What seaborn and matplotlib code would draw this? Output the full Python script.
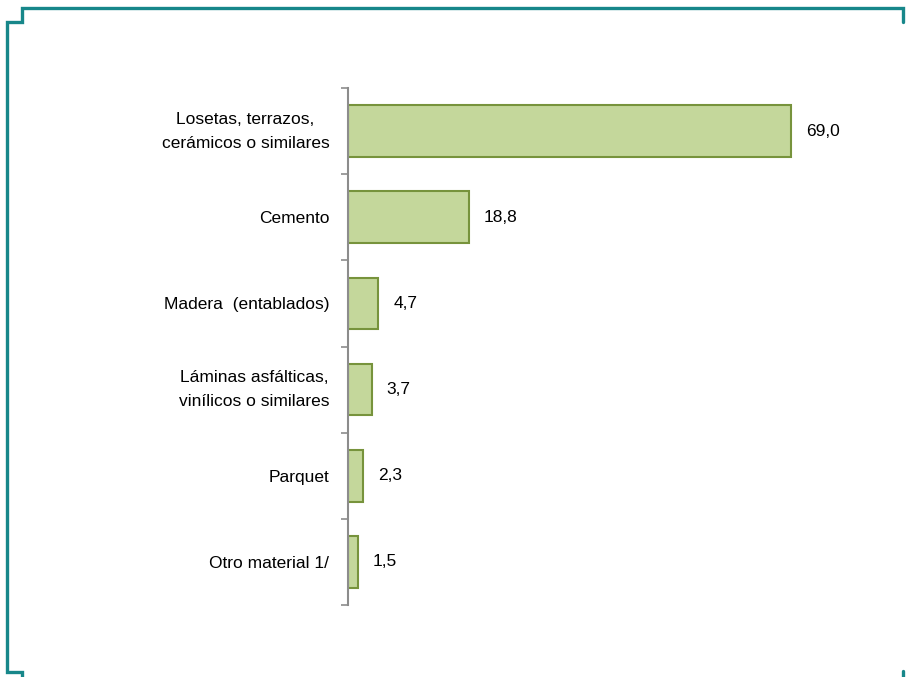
import pandas as pd
import matplotlib.pyplot as plt
import seaborn as sns
from matplotlib.lines import Line2D

# --- data ---
categories = ['Losetas, terrazos,\ncerámicos o similares', 'Cemento', 'Madera  (entablados)',
              'Láminas asfálticas,\nvinílicos o similares', 'Parquet', 'Otro material 1/']
values = [69.0, 18.8, 4.7, 3.7, 2.3, 1.5]
value_labels = ['69,0', '18,8', '4,7', '3,7', '2,3', '1,5']

df = pd.DataFrame({'cat': categories, 'val': values})

sns.set_style('white')
plt.rcParams['font.family'] = ['Liberation Sans', 'DejaVu Sans']
fs = 12.5

W, H = 907, 677
fig = plt.figure(figsize=(W / 100, H / 100), dpi=100)
ax = fig.add_axes([348 / W, 1 - 605 / H, 514 / W, 517 / H])

sns.barplot(data=df, x='val', y='cat', ax=ax, color='#c4d79b', edgecolor='#77933c',
            linewidth=1.5, width=0.6, saturation=1)

ax.set_xlim(0, 80)
ax.set_ylim(5.5, -0.5)
ax.set_xlabel('')
ax.set_ylabel('')
ax.set_xticks([])

# tick marks between categories, labels at centres
ax.set_yticks([i - 0.5 for i in range(len(categories) + 1)])
ax.set_yticklabels([])
ax.tick_params(axis='y', which='major', direction='out', length=5, width=1.2, color='#8c8c8c', left=True)
ax.set_yticks(range(len(categories)), minor=True)
ax.set_yticklabels(categories, minor=True, fontsize=fs, color='black')
ax.tick_params(axis='y', which='minor', length=0, pad=13.5)
for t in ax.get_yticklabels(minor=True):
    t.set_multialignment('center')
    t.set_linespacing(1.75)
    if '\n' in t.get_text():
        t.set_verticalalignment('center')

for s in ['top', 'right', 'bottom']:
    ax.spines[s].set_visible(False)
ax.spines['left'].set_color('#8c8c8c')
ax.spines['left'].set_linewidth(1.5)

for i, (v, lab) in enumerate(zip(values, value_labels)):
    ax.annotate(lab, (v, i), xytext=(15, 0), textcoords='offset pixels',
                va='center', ha='left', fontsize=fs, color='black')

# teal frame
teal = '#17878a'
def px(x, y):
    return x / W, 1 - y / H

frame = [(22, 677), (22, 672), (7, 672), (7, 22), (22, 22), (22, 8), (903, 8), (903, 22)]
xs, ys = zip(*[px(x, y) for x, y in frame])
fig.add_artist(Line2D(xs, ys, color=teal, lw=2.4, solid_joinstyle='miter'))
xs, ys = zip(*[px(903, 671), px(903, 677)])
fig.add_artist(Line2D(xs, ys, color=teal, lw=2.4))

fig.savefig('out.png', dpi=100)
